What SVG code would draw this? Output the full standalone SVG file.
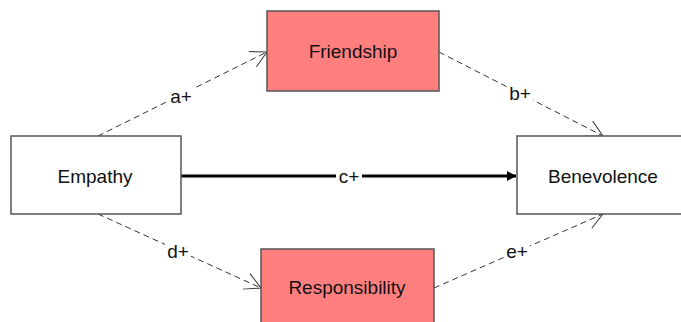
<svg xmlns="http://www.w3.org/2000/svg" width="681" height="322" viewBox="0 0 681 322">
<style>
.box{stroke:#555;stroke-width:1.5}
.white{fill:#fff}
.pink{fill:#ff7f7f}
.t{font-family:"Liberation Sans",Arial,sans-serif;font-size:19px;fill:#111;text-anchor:middle}
.dash{fill:none;stroke:#333;stroke-width:1;stroke-dasharray:6,4}
.solid{fill:none;stroke:#000;stroke-width:3}
.lbl{fill:#fff}
</style>
<defs>
<marker id="open" markerUnits="userSpaceOnUse" markerWidth="40" markerHeight="40" refX="0" refY="0" viewBox="-20 -20 40 40" orient="auto" overflow="visible">
<path d="M-16,-8.5 L0,0 L-16,8.5" fill="none" stroke="#333" stroke-width="1"/>
</marker>
<marker id="fill" markerUnits="userSpaceOnUse" markerWidth="20" markerHeight="20" refX="0" refY="0" viewBox="-10 -10 20 20" orient="auto" overflow="visible">
<path d="M-9,-5 L0,0 L-9,5 Z" fill="#000"/>
</marker>
</defs>
<g id="connectors">
<line class="dash" x1="98" y1="136" x2="267" y2="52" marker-end="url(#open)"/>
<line class="dash" x1="439" y1="52" x2="603" y2="136" marker-end="url(#open)"/>
<line class="solid" x1="181" y1="176" x2="516" y2="176" marker-end="url(#fill)"/>
<line class="dash" x1="98" y1="214" x2="261" y2="288" marker-end="url(#open)"/>
<line class="dash" x1="434" y1="288" x2="603" y2="214" marker-end="url(#open)"/>
<rect class="lbl" x="168" y="86" width="26" height="20"/>
<text class="t" x="181" y="103">a+</text>
<rect class="lbl" x="507" y="83" width="26" height="20"/>
<text class="t" x="520" y="100">b+</text>
<rect class="lbl" x="336" y="166" width="26" height="20"/>
<text class="t" x="349" y="183">c+</text>
<rect class="lbl" x="165" y="241" width="26" height="20"/>
<text class="t" x="178" y="258">d+</text>
<rect class="lbl" x="504" y="241" width="26" height="20"/>
<text class="t" x="517" y="258">e+</text>
</g>
<g id="friendship">
<rect class="box pink" x="267" y="11" width="172" height="80"/>
<text class="t" x="353" y="58">Friendship</text>
</g>
<g id="empathy">
<rect class="box white" x="11" y="136" width="170" height="78"/>
<text class="t" x="95" y="183">Empathy</text>
</g>
<g id="benevolence">
<rect class="box white" x="517" y="136" width="172" height="78"/>
<text class="t" x="603" y="183">Benevolence</text>
</g>
<g id="responsibility">
<rect class="box pink" x="261" y="249" width="173" height="80"/>
<text class="t" x="347" y="294">Responsibility</text>
</g>
</svg>
